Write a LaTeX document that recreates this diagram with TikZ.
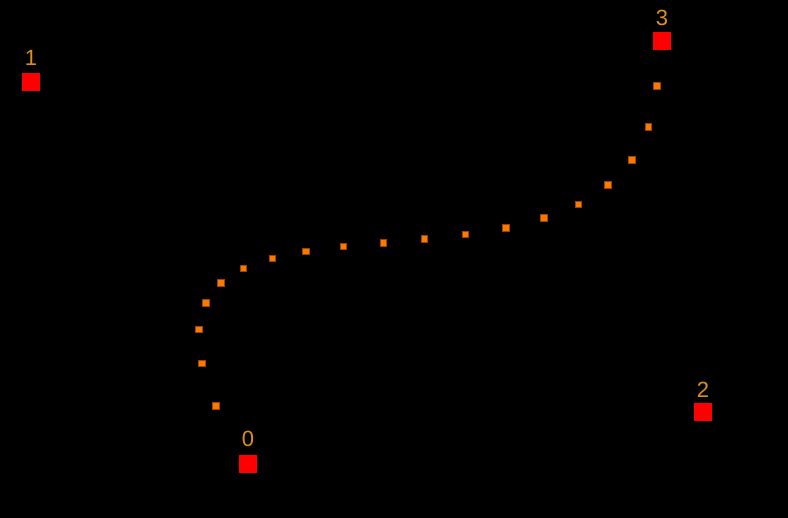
\documentclass[tikz,border=0pt]{standalone}
\usepackage{fontspec}
\setmainfont{Liberation Sans}
\definecolor{labelorange}{RGB}{220,145,25}
\definecolor{dotorange}{RGB}{255,120,0}
\definecolor{dotedge}{RGB}{150,70,0}
\begin{document}
\begin{tikzpicture}[x=1pt,y=-1pt,
  ctrl/.style={fill=red, draw=none, minimum size=18pt, inner sep=0pt},
  lbl/.style={text=labelorange, font=\fontsize{22}{22}\selectfont, inner sep=0pt, anchor=base},
  dotnode/.style={fill=dotorange, draw=dotedge, line width=0.5pt, minimum size=6.5pt, inner sep=0pt}]
\fill[black] (0,0) rectangle (788,518);
\useasboundingbox (0,0) rectangle (788,518);
\node[ctrl] (p0) at (248,464) {};
\node[ctrl] (p1) at (31,82) {};
\node[ctrl] (p2) at (703,412.5) {};
\node[ctrl] (p3) at (662,41) {};
\node[lbl] (l0) at (248,446.5) {0};
\node[lbl] (l1) at (31,66) {1};
\node[lbl] (l2) at (703,398) {2};
\node[lbl] (l3) at (662,26) {3};
\foreach \i in {1,...,19} {
  \pgfmathsetmacro\t{\i/20}
  \pgfmathsetmacro\u{1-\t}
  \pgfmathsetmacro\bx{\u*\u*\u*248+3*\u*\u*\t*31+3*\u*\t*\t*703+\t*\t*\t*662-6}
  \pgfmathsetmacro\by{\u*\u*\u*464+3*\u*\u*\t*82+3*\u*\t*\t*412.5+\t*\t*\t*41-6}
  \node[dotnode] (d\i) at (\bx,\by) {};
}
\end{tikzpicture}
\end{document}
